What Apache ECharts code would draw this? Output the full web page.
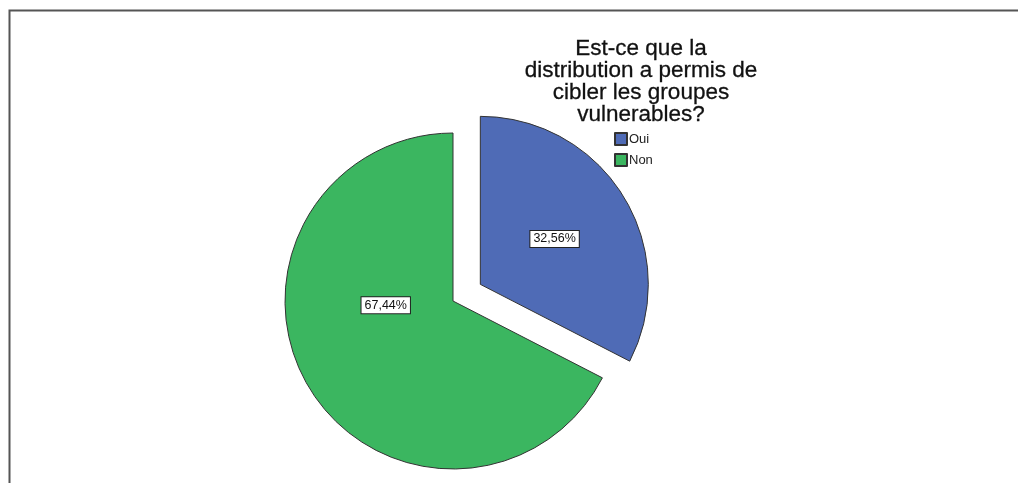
<!DOCTYPE html>
<html>
<head>
<meta charset="utf-8">
<script src="https://cdn.jsdelivr.net/npm/echarts@6/dist/echarts.min.js"></script>
<style>
  html, body { margin: 0; padding: 0; background: #fff; }
  #chart { width: 1018px; height: 483px; }
</style>
</head>
<body>
<div id="chart"></div>
<script>
// Answers and their shares (percent)
const categories = ['Oui', 'Non'];
const shares = [32.56, 67.44];
const colors = ['#4f6bb6', '#3bb660'];
const titleText = 'Est-ce que la\ndistribution a permis de\ncibler les groupes\nvulnerables?';

const fmt = v => v.toFixed(2).replace('.', ',') + '%';

const chart = echarts.init(document.getElementById('chart'), null, { renderer: 'canvas' });

const labelStyle = {
  show: true,
  position: 'inside',
  formatter: p => fmt(p.value),
  color: '#111',
  fontFamily: 'Liberation Sans, Arial, sans-serif',
  fontSize: 12.5,
  backgroundColor: '#fff',
  borderColor: '#222',
  borderWidth: 1,
  padding: [2, 3, 1, 3]
};

chart.setOption({
  animation: false,
  graphic: [{
    type: 'rect',
    shape: { x: 9.5, y: 10.5, width: 1200, height: 600 },
    style: { fill: 'none', stroke: '#555', lineWidth: 2 },
    silent: true
  }],
  title: {
    text: titleText,
    left: 636,
    top: 33,
    textAlign: 'center',
    textStyle: {
      fontFamily: 'Liberation Sans, Arial, sans-serif',
      fontSize: 22.5,
      fontWeight: 'normal',
      color: '#111',
      lineHeight: 22,
      align: 'center',
      textBorderColor: '#111',
      textBorderWidth: 0.3
    }
  },
  legend: {
    orient: 'vertical',
    left: 614,
    top: 132,
    padding: 0,
    itemWidth: 12,
    itemHeight: 12,
    itemGap: 7,
    icon: 'rect',
    selectedMode: false,
    textStyle: {
      fontFamily: 'Liberation Sans Narrow, Liberation Sans, Arial, sans-serif',
      fontSize: 13,
      color: '#222',
      padding: [0, 0, 0, -3]
    },
    data: categories
  },
  series: [{
    type: 'pie',
    center: [453, 301],
    radius: 168,
    startAngle: 90,
    clockwise: true,
    selectedMode: 'single',
    selectedOffset: 32,
    emphasis: { disabled: true },
    itemStyle: { borderColor: '#333', borderWidth: 1 },
    labelLine: { show: false },
    data: categories.map((name, i) => ({
      name,
      value: shares[i],
      selected: i === 0,
      itemStyle: { color: colors[i] },
      label: Object.assign({}, labelStyle, i === 1 ? { offset: [7, -41] } : {})
    }))
  }]
});
</script>
</body>
</html>
